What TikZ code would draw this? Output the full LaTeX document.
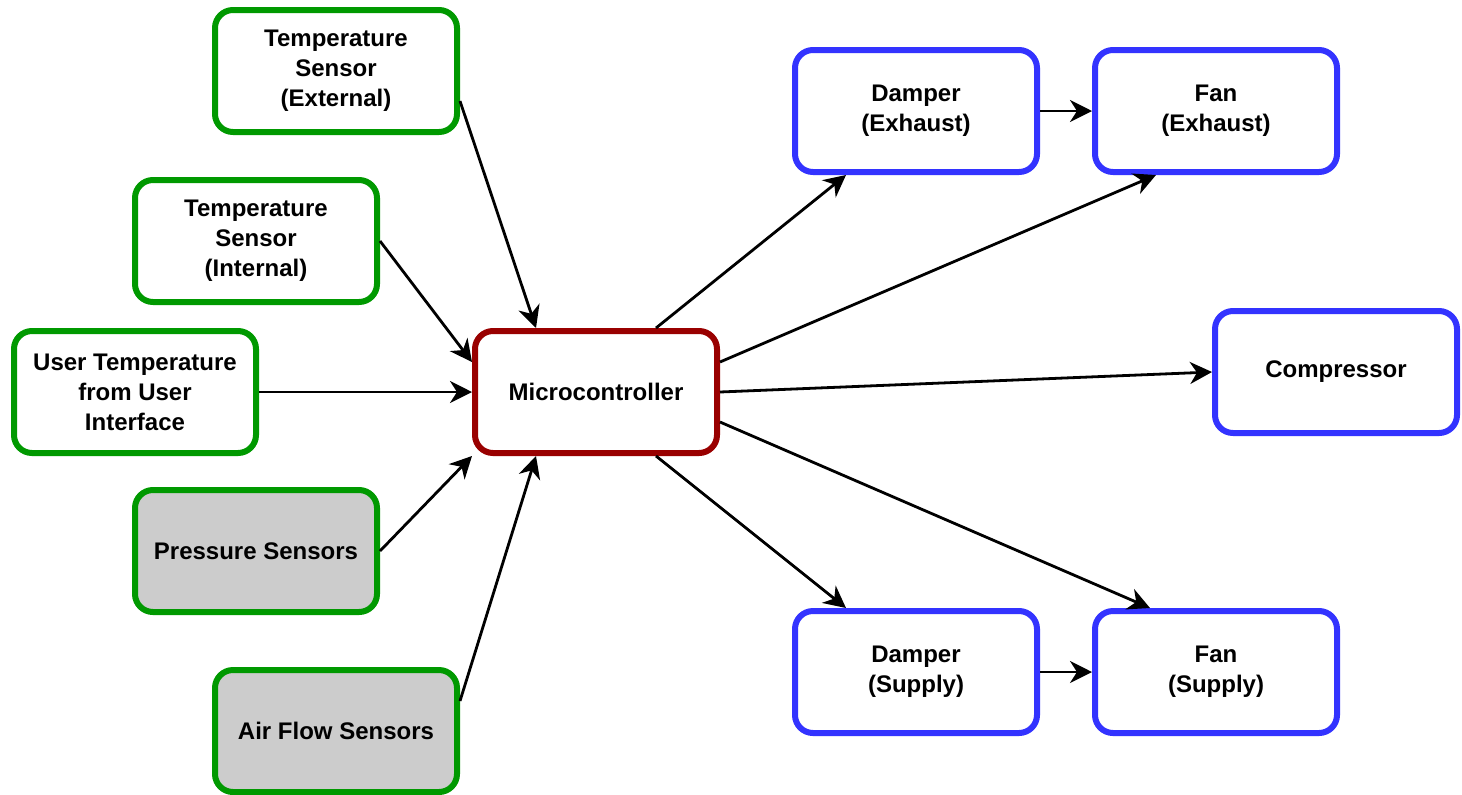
\documentclass[tikz,border=0pt]{standalone}
\usepackage{fontspec}
\setmainfont{Liberation Sans}
\usepackage{tikz}
\usetikzlibrary{arrows.meta}

\definecolor{sensgreen}{HTML}{009900}
\definecolor{ctrlred}{HTML}{990000}
\definecolor{actblue}{HTML}{3333FF}
\definecolor{offgray}{HTML}{CCCCCC}

\begin{document}
\begin{tikzpicture}[x=0.5pt, y=-0.5pt,
    box/.style={rectangle, rounded corners=9pt, line width=3pt, minimum width=121pt,
      minimum height=61pt, align=center, font=\bfseries\fontsize{12}{15}\selectfont},
    sensor/.style={box, draw=sensgreen, fill=white},
    offsensor/.style={box, draw=sensgreen, fill=offgray},
    ctrl/.style={box, draw=ctrlred, fill=white},
    actuator/.style={box, draw=actblue, fill=white},
    link/.style={line width=1.4pt, -{Stealth[length=11pt, width=11pt, inset=3.5pt]}}]
    \useasboundingbox (0,0) rectangle (1462,794);

    \node[sensor] (ext) at (336, 71) {Temperature\\Sensor\\(External)};
    \node[sensor] (int) at (256, 241) {Temperature\\Sensor\\(Internal)};
    \node[sensor] (user) at (135, 392) {User Temperature\\from User\\Interface};
    \node[offsensor] (press) at (256, 551) {Pressure Sensors};
    \node[offsensor] (air) at (336, 731) {Air Flow Sensors};

    \node[ctrl] (micro) at (596, 392) {Microcontroller};

    \node[actuator] (dampex) at (916, 111) {Damper\\(Exhaust)};
    \node[actuator] (fanex) at (1216, 111) {Fan\\(Exhaust)};
    \node[actuator] (comp) at (1336, 372) {Compressor};
    \node[actuator] (dampsup) at (916, 672) {Damper\\(Supply)};
    \node[actuator] (fansup) at (1216, 672) {Fan\\(Supply)};

    \draw[link] ([yshift=-15pt]ext.east) -- ([xshift=-30pt]micro.north);
    \draw[link] (int.east) -- ([yshift=15pt]micro.west);
    \draw[link] (user.east) -- (micro.west);
    \draw[link] (press.east) -- (micro.south west);
    \draw[link] ([yshift=15pt]air.east) -- ([xshift=-30pt]micro.south);

    \draw[link] ([xshift=30pt]micro.north) -- ([xshift=-35pt]dampex.south);
    \draw[link] ([yshift=15pt]micro.east) -- ([xshift=-30pt]fanex.south);
    \draw[link] (micro.east) -- (comp.west);
    \draw[link] ([yshift=-15pt]micro.east) -- ([xshift=-33pt]fansup.north);
    \draw[link] ([xshift=30pt]micro.south) -- ([xshift=-35pt]dampsup.north);

    \draw[link] (dampex.east) -- (fanex.west);
    \draw[link] (dampsup.east) -- (fansup.west);
  \end{tikzpicture}
\end{document}
